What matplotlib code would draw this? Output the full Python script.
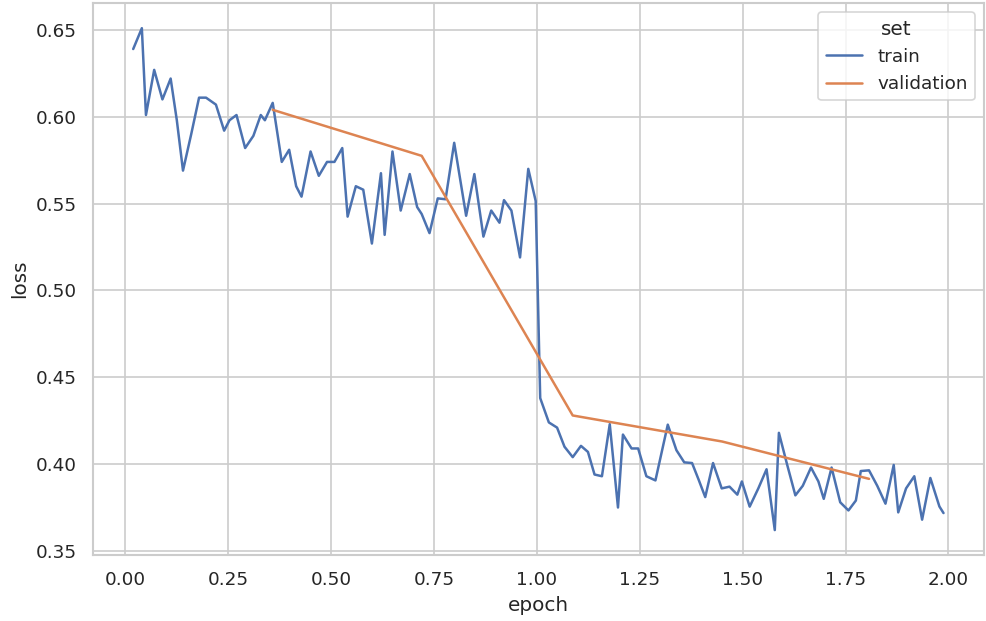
import matplotlib
matplotlib.use("Agg")
import matplotlib.pyplot as plt
import pandas as pd
import seaborn as sns

train_epoch = [0.019, 0.040, 0.050, 0.070, 0.090, 0.110, 0.125, 0.140, 0.160, 0.179,
               0.196, 0.220, 0.240, 0.253, 0.270, 0.291, 0.311, 0.329, 0.339, 0.358,
               0.380, 0.398, 0.415, 0.428, 0.450, 0.470, 0.490, 0.508, 0.527, 0.540,
               0.560, 0.578, 0.599, 0.621, 0.630, 0.649, 0.669, 0.691, 0.709, 0.720,
               0.739, 0.759, 0.778, 0.799, 0.828, 0.848, 0.870, 0.889, 0.909, 0.920,
               0.938, 0.959, 0.979, 0.997, 1.008, 1.029, 1.049, 1.067, 1.087, 1.107,
               1.124, 1.140, 1.158, 1.177, 1.197, 1.209, 1.230, 1.246, 1.266, 1.288,
               1.318, 1.339, 1.358, 1.377, 1.393, 1.409, 1.428, 1.449, 1.468, 1.487,
               1.498, 1.517, 1.538, 1.558, 1.578, 1.588, 1.608, 1.628, 1.646, 1.666,
               1.684, 1.697, 1.716, 1.737, 1.757, 1.775, 1.787, 1.807, 1.827, 1.847,
               1.867, 1.878, 1.897, 1.917, 1.936, 1.956, 1.978, 1.988]
train_loss = [0.639, 0.651, 0.601, 0.627, 0.610, 0.622, 0.598, 0.569, 0.590, 0.611,
              0.611, 0.607, 0.592, 0.598, 0.601, 0.582, 0.589, 0.601, 0.598, 0.608,
              0.574, 0.581, 0.560, 0.554, 0.580, 0.566, 0.574, 0.574, 0.582, 0.5425,
              0.560, 0.558, 0.527, 0.5675, 0.532, 0.580, 0.546, 0.567, 0.548, 0.544,
              0.533, 0.553, 0.5525, 0.585, 0.543, 0.567, 0.531, 0.546, 0.539, 0.552,
              0.546, 0.519, 0.570, 0.5515, 0.438, 0.424, 0.421, 0.410, 0.404, 0.4105,
              0.407, 0.394, 0.393, 0.423, 0.375, 0.417, 0.409, 0.409, 0.393, 0.3906,
              0.4227, 0.408, 0.401, 0.4006, 0.391, 0.381, 0.4006, 0.386, 0.387, 0.3824,
              0.390, 0.3755, 0.386, 0.397, 0.362, 0.418, 0.3997, 0.382, 0.3875, 0.398,
              0.390, 0.380, 0.398, 0.378, 0.3733, 0.379, 0.396, 0.3964, 0.3875, 0.3772,
              0.3995, 0.3722, 0.386, 0.393, 0.368, 0.392, 0.3756, 0.3718]

val_epoch = [0.358, 0.720, 1.087, 1.450, 1.807]
val_loss = [0.604, 0.5775, 0.428, 0.413, 0.3915]

df = pd.DataFrame({
    "epoch": train_epoch + val_epoch,
    "loss": train_loss + val_loss,
    "set": ["train"] * len(train_epoch) + ["validation"] * len(val_epoch),
})

sns.set_theme(style="whitegrid")
fig, ax = plt.subplots(figsize=(986 / 120, 621 / 120), dpi=120)
sns.lineplot(data=df, x="epoch", y="loss", hue="set", ax=ax)
sns.move_legend(ax, "upper right")

fig.subplots_adjust(left=0.094, right=0.998, top=0.995, bottom=0.106)
fig.savefig("out.png", dpi=120)
